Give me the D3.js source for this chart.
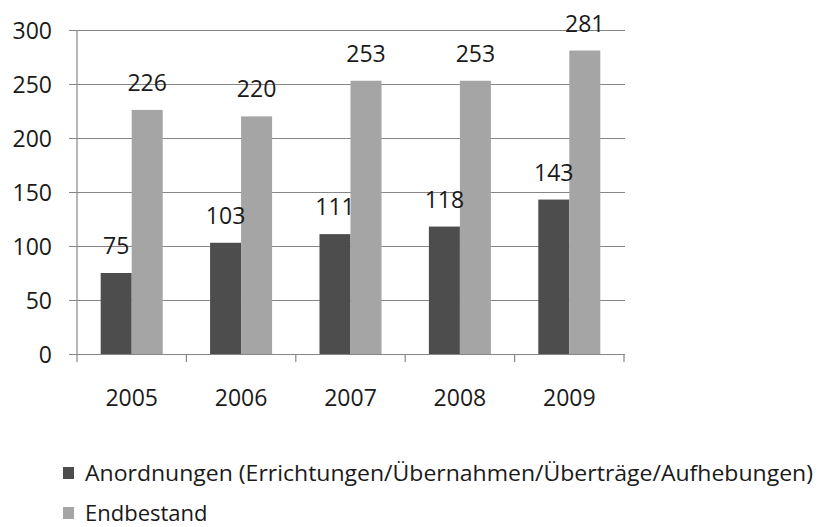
<!DOCTYPE html>
<html>
<head>
<meta charset="utf-8">
<script src="https://cdn.jsdelivr.net/npm/d3@7"></script>
<style>
  html, body { margin: 0; padding: 0; background: #fff; }
  svg text { font-family: "Open Sans", "DejaVu Sans", sans-serif; fill: #1a1a1a; }
</style>
</head>
<body>
<div id="chart"></div>
<script>
// chart data
const years = ['2005', '2006', '2007', '2008', '2009'];
const seriesNames = [
  'Anordnungen (Errichtungen/Übernahmen/Überträge/Aufhebungen)',
  'Endbestand'
];
const anordnungen = [75, 103, 111, 118, 143];
const endbestand = [226, 220, 253, 253, 281];
const yTicks = [0, 50, 100, 150, 200, 250, 300];

const colors = ['#4d4d4d', '#a5a5a5'];
const width = 823;
const height = 527;

const svg = d3.select('#chart')
  .append('svg')
  .attr('width', width)
  .attr('height', height);

const rows = years.map((y, i) => ({year: y, values: [anordnungen[i], endbestand[i]]}));

const y = d3.scaleLinear()
  .domain([0, 300])
  .range([354, 30]);

const x0 = d3.scaleBand()
  .domain(years)
  .range([77, 624])
  .paddingInner(0.433)
  .paddingOuter(0.2165);

const x1 = d3.scaleBand()
  .domain([0, 1])
  .range([0, x0.bandwidth()]);

// gridlines + left ticks
const gridAxis = d3.axisLeft(y)
  .tickValues(yTicks)
  .tickSize(-(625 - 69))
  .tickFormat(d => d);

const gy = svg.append('g')
  .attr('transform', 'translate(69,0)')
  .call(gridAxis);
gy.select('.domain').remove();
gy.selectAll('.tick line').attr('stroke', '#868686').attr('stroke-width', 1.2);
gy.selectAll('.tick text')
  .attr('x', -17)
  .attr('dy', '0.36em')
  .style('font-size', '23px')
  .style('text-anchor', 'end');

// bars
const groups = svg.append('g')
  .selectAll('g')
  .data(rows)
  .enter()
  .append('g')
  .attr('transform', d => `translate(${x0(d.year)},0)`);

groups.selectAll('rect')
  .data(d => d.values)
  .enter()
  .append('rect')
  .attr('x', (d, i) => x1(i))
  .attr('y', d => y(d))
  .attr('width', x1.bandwidth())
  .attr('height', d => y(0) - y(d))
  .attr('fill', (d, i) => colors[i]);

// value labels
groups.selectAll('text')
  .data(d => d.values)
  .enter()
  .append('text')
  .attr('x', (d, i) => x1(i) + x1.bandwidth() / 2)
  .attr('y', d => y(d) - 19)
  .attr('text-anchor', 'middle')
  .style('font-size', '23px')
  .text(d => d);

// y axis line
svg.append('line')
  .attr('x1', 77).attr('x2', 77)
  .attr('y1', y(300)).attr('y2', y(0))
  .attr('stroke', '#868686')
  .attr('stroke-width', 1.2);

// x axis
const gx = svg.append('g')
  .attr('transform', `translate(0,${y(0)})`)
  .call(d3.axisBottom(x0).tickSize(0).tickPadding(0));
gx.select('.domain').remove();
gx.selectAll('.tick text')
  .attr('y', 52)
  .attr('dy', 0)
  .style('font-size', '23px');

// category boundary ticks
const bounds = years.map(yr => x0(yr) - x0.step() * x0.paddingOuter()).concat([624]);
svg.append('g')
  .selectAll('line')
  .data(bounds)
  .enter()
  .append('line')
  .attr('x1', d => d).attr('x2', d => d)
  .attr('y1', y(0)).attr('y2', y(0) + 8)
  .attr('stroke', '#868686')
  .attr('stroke-width', 1.2);

// legend
const legend = svg.append('g')
  .selectAll('g')
  .data(seriesNames)
  .enter()
  .append('g')
  .attr('transform', (d, i) => `translate(63,${467 + i * 40})`);

legend.append('rect')
  .attr('width', 11)
  .attr('height', 12)
  .attr('fill', (d, i) => colors[i]);

legend.append('text')
  .attr('x', 22)
  .attr('y', 13.5)
  .style('font-size', '22px')
  .text(d => d)
  .each(function (d, i) {
    if (i === 0) {
      d3.select(this).attr('textLength', 728).attr('lengthAdjust', 'spacingAndGlyphs');
    }
  });
</script>
</body>
</html>
